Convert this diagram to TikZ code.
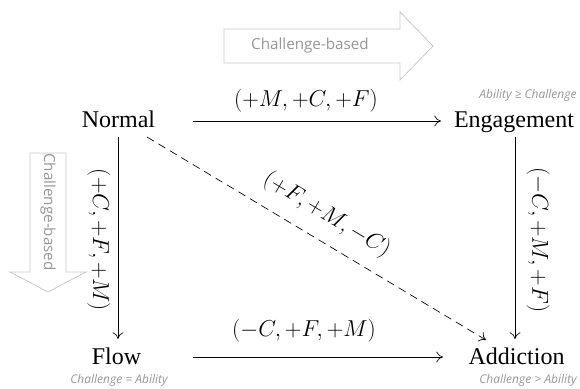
\documentclass[tikz,border=0pt]{standalone}
\usepackage{amsmath,amssymb}
\usepackage{fontspec}
\setmainfont{Liberation Serif}
\newfontfamily\notefont{Open Sans}
\usetikzlibrary{arrows.meta}
\definecolor{hintgray}{RGB}{150,150,150}
\definecolor{boxgray}{RGB}{200,200,200}

\begin{document}
\begin{tikzpicture}[x=0.75pt, y=-0.75pt, every node/.style={font=\fontsize{18}{20}\selectfont},
	state/.style={inner sep=0pt, anchor=base},
	note/.style={text=hintgray, font=\notefont\itshape\fontsize{9}{11}\selectfont},
	hint/.style={text=hintgray, font=\notefont\fontsize{11.4}{13}\selectfont},
	trans/.style={font=\fontsize{16}{18}\selectfont},
	link/.style={-{Computer Modern Rightarrow[length=5pt,width=8pt]}, line width=0.5pt}]
	\useasboundingbox (0,0) rectangle (580,388);
	% big hint arrows
	\draw[boxgray, line width=0.6pt] (224,29) -- (400,29) -- (400,12) -- (433,46) -- (400,80) -- (400,63) -- (224,63) -- cycle;
	\node[hint] (hinttop) at (310,46) {Challenge-based};
	\draw[boxgray, line width=0.6pt] (30,153) -- (66,153) -- (66,272) -- (86,272) -- (48,292) -- (10,272) -- (30,272) -- cycle;
	\node[hint, rotate=-90] (hintleft) at (48,212) {Challenge-based};
	% states
	\node[state] (N) at (118.5,128) {Normal};
	\node[state] (E) at (514,128) {Engagement};
	\node[state] (F) at (116.5,364) {Flow};
	\node[state] (A) at (516.5,364) {Addiction};
	\node[note] (nE) at (528,95) {Ability ≥ Challenge};
	\node[note] (nF) at (119,380) {Challenge = Ability};
	\node[note] (nA) at (528,380) {Challenge > Ability};
	% transitions
	\coordinate (Nr) at (193,121);
	\coordinate (El) at (441,121);
	\coordinate (Nd) at (118,137);
	\coordinate (Fu) at (118,339);
	\coordinate (Ed) at (515,137);
	\coordinate (Au) at (515,339);
	\coordinate (Fr) at (193,357);
	\coordinate (Al) at (443,357);
	\coordinate (Nx) at (147,137);
	\coordinate (Ax) at (486,340);
	\draw[link] (Nr) -- (El);
	\draw[link] (Nd) -- (Fu);
	\draw[link] (Ed) -- (Au);
	\draw[link] (Fr) -- (Al);
	\draw[link, dash pattern=on 6pt off 4pt] (Nx) -- (Ax);
	\node[trans] (t1) at (306,101) {$(+M,+C,+F)$};
	\node[trans, rotate=-90] (t2) at (99,240) {$(+C,+F,+M)$};
	\node[trans, rotate=-90] (t3) at (538,240) {$(-C,+M,+F)$};
	\node[trans] (t4) at (304,331) {$(-C,+F,+M)$};
	\node[trans, rotate=-31] (t5) at (327,215) {$(+F,+M,-C)$};
\end{tikzpicture}
\end{document}
